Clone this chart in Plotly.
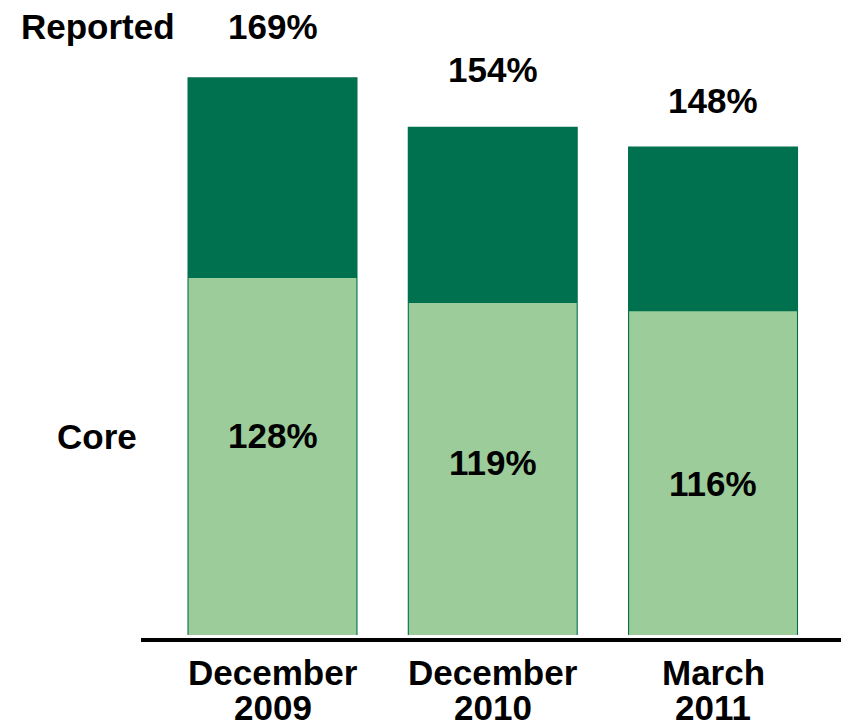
import plotly.graph_objects as go

# ---- data ----
months = ["December", "December", "March"]
years = ["2009", "2010", "2011"]
core = [128, 119, 116]
reported = [169, 154, 148]
series_names = ["Reported", "Core"]

# ---- style ----
DARK = "#00714F"
LIGHT = "#9BCC9A"
FONT = "Liberation Sans, Arial, sans-serif"
FS = 35
W, H = 841, 727
L_M, R_M, T_M = 141, 0, 0
PLOT_BOTTOM = 638
B_M = H - PLOT_BOTTOM
plot_h = H - T_M - B_M
plot_w = W - L_M - R_M
px_rep = 3.30   # px per unit on reported axis
px_core = 2.79  # px per unit on core axis
zero_gap = 3    # px between zero line and axis line
top_label_shift = [51, 57, 46]
core_label_shift = [-158, -160, -172]


def paper_y(page_y):
    return (plot_h - (page_y - T_M)) / plot_h


def paper_x(page_x):
    return (page_x - L_M) / plot_w


x = list(range(len(months)))

fig = go.Figure()
fig.add_trace(go.Bar(x=x, y=reported, name=series_names[0], marker_color=DARK,
                     marker_line_width=0, width=0.772, yaxis="y"))
fig.add_trace(go.Bar(x=x, y=core, name=series_names[1], marker_color=LIGHT,
                     marker_line_width=0, width=0.762, yaxis="y2"))

ann = []
bold = lambda s: f"<b>{s}</b>"
for i in x:
    ann.append(dict(x=i, y=reported[i], xref="x", yref="y", text=bold(f"{reported[i]}%"),
                    showarrow=False, yanchor="middle", yshift=top_label_shift[i]))
    ann.append(dict(x=i, y=core[i], xref="x", yref="y2", text=bold(f"{core[i]}%"),
                    showarrow=False, yanchor="middle", yshift=core_label_shift[i]))
    ann.append(dict(x=i, y=paper_y(672.4), xref="x", yref="paper",
                    text=bold(months[i]), showarrow=False, yanchor="middle"))
    ann.append(dict(x=i, y=paper_y(707), xref="x", yref="paper",
                    text=bold(years[i]), showarrow=False, yanchor="middle"))

ann.append(dict(x=paper_x(98), y=paper_y(26.5), xref="paper", yref="paper",
                text=bold(series_names[0]), showarrow=False, xanchor="center", yanchor="middle"))
ann.append(dict(x=paper_x(96.5), y=paper_y(436), xref="paper", yref="paper",
                text=bold(series_names[1]), showarrow=False, xanchor="center", yanchor="middle"))

zero_px = plot_h - zero_gap
fig.update_layout(
    width=W, height=H,
    margin=dict(l=L_M, r=R_M, t=T_M, b=B_M, pad=0),
    paper_bgcolor="white", plot_bgcolor="white",
    barmode="overlay", showlegend=False, hovermode=False,
    font=dict(family=FONT, size=FS, color="black"),
    xaxis=dict(range=[-0.597, 2.581], showticklabels=False, ticks="", showgrid=False,
               zeroline=False, showline=True, linecolor="black", linewidth=4),
    yaxis=dict(range=[-zero_gap / px_rep, zero_px / px_rep], visible=False, showgrid=False),
    yaxis2=dict(range=[-zero_gap / px_core, zero_px / px_core], visible=False, showgrid=False,
                overlaying="y"),
    annotations=ann,
)

fig.write_html("out.html", config={"displayModeBar": False},
               post_script="document.body.style.margin='0';document.body.style.overflow='hidden';")
